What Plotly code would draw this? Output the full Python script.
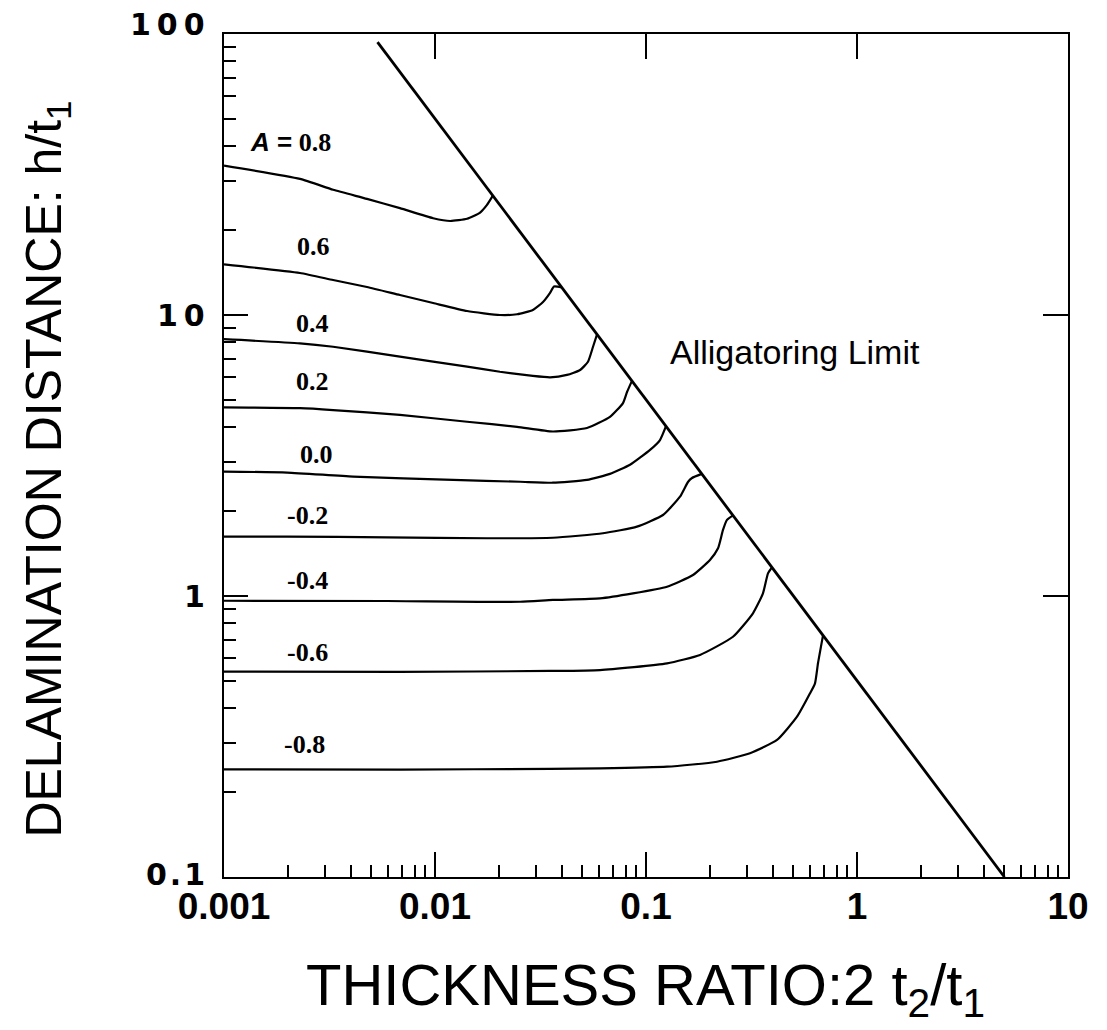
import plotly.graph_objects as go
import math

# ---------------- data ----------------
# Alligatoring limit line
limit_x = [0.00534, 5.0]
limit_y = [93.6, 0.1]

# curves for each A value
x_08 = [0.001, 0.00229, 0.00329, 0.00476, 0.00682, 0.0098, 0.0118, 0.0142, 0.0163, 0.0176, 0.0188]
y_08 = [34.0, 30.5, 27.9, 25.9, 24.0, 22.1, 21.6, 22.0, 23.1, 24.6, 26.6]

x_06 = [0.001, 0.00229, 0.00329, 0.00476, 0.00682, 0.0098, 0.0142, 0.0203, 0.0245, 0.0291, 0.0325, 0.0351, 0.03664, 0.03986]
y_06 = [15.15, 14.11, 13.32, 12.58, 11.78, 11.03, 10.33, 10.0, 10.06, 10.42, 11.12, 11.98, 12.63, 12.54]

x_04 = [0.001, 0.00229, 0.00329, 0.00682, 0.0142, 0.0203, 0.0291, 0.0351, 0.0422, 0.0487, 0.0531, 0.0561, 0.0586]
y_04 = [8.20, 7.93, 7.71, 7.11, 6.55, 6.28, 6.07, 6.00, 6.12, 6.37, 6.82, 7.71, 8.53]

x_02 = [0.001, 0.00229, 0.00329, 0.00682, 0.0142, 0.0245, 0.0362, 0.0525, 0.0675, 0.0778, 0.0813, 0.0858]
y_02 = [4.69, 4.66, 4.59, 4.41, 4.17, 4.00, 3.85, 3.96, 4.34, 4.86, 5.32, 5.83]

x_00 = [0.001, 0.00199, 0.00409, 0.01217, 0.0253, 0.0362, 0.0525, 0.0675, 0.0840, 0.1045, 0.1165, 0.1244]
y_00 = [2.77, 2.75, 2.66, 2.59, 2.55, 2.53, 2.59, 2.72, 2.93, 3.31, 3.59, 4.02]

x_m02 = [0.001, 0.00199, 0.00592, 0.01764, 0.0362, 0.0625, 0.0906, 0.1204, 0.1449, 0.1581, 0.1652, 0.1840]
y_m02 = [1.626, 1.626, 1.618, 1.605, 1.612, 1.672, 1.765, 1.942, 2.256, 2.545, 2.63, 2.72]

x_m04 = [0.001, 0.00592, 0.0253, 0.0362, 0.0605, 0.0868, 0.1258, 0.1670, 0.2010, 0.2195, 0.2317, 0.2420, 0.2584]
y_m04 = [0.962, 0.960, 0.954, 0.968, 0.981, 1.022, 1.079, 1.188, 1.343, 1.478, 1.718, 1.865, 1.935]

x_m06 = [0.001, 0.00683, 0.0351, 0.0605, 0.1258, 0.1803, 0.2584, 0.3213, 0.3584, 0.3786, 0.3956]
y_m06 = [0.538, 0.537, 0.541, 0.545, 0.576, 0.617, 0.716, 0.868, 1.022, 1.204, 1.264]

x_m08 = [0.001, 0.00683, 0.0351, 0.0605, 0.1258, 0.2171, 0.3111, 0.4177, 0.5195, 0.5989, 0.6324, 0.6533, 0.6902]
y_m08 = [0.2416, 0.2412, 0.2426, 0.2436, 0.2469, 0.2572, 0.2756, 0.3073, 0.3719, 0.4505, 0.4890, 0.5761, 0.7244]

curve_names = ["0.8", "0.6", "0.4", "0.2", "0.0", "-0.2", "-0.4", "-0.6", "-0.8"]
curve_xs = [x_08, x_06, x_04, x_02, x_00, x_m02, x_m04, x_m06, x_m08]
curve_ys = [y_08, y_06, y_04, y_02, y_00, y_m02, y_m04, y_m06, y_m08]

# label anchor positions (data coordinates) for the curve labels
label_x = [0.0013, 0.00267, 0.00264, 0.00264, 0.00273, 0.0025, 0.0025, 0.0025, 0.00242]
label_y = [41.3, 17.46, 9.36, 5.78, 3.20, 1.93, 1.14, 0.627, 0.295]

x_tickvals = [0.001, 0.01, 0.1, 1, 10]
x_ticktext = ["0.001", "0.01", "0.1", "1", "10"]
y_tickvals = [0.1, 1, 10, 100]
y_ticktext = ["0\u200a.\u200a1", "1", "1\u20090", "1\u20090\u20090"]
y_label_shift = [3, 0, 0, 10]   # the "100" label sits a little above its tick

# ---------------- figure ----------------
fig = go.Figure()

for nm, xs, ys in zip(curve_names, curve_xs, curve_ys):
    fig.add_trace(go.Scatter(x=xs, y=ys, mode="lines", name=nm,
                             line=dict(color="black", width=2.2, shape="spline", smoothing=0.5),
                             hoverinfo="skip"))

fig.add_trace(go.Scatter(x=limit_x, y=limit_y, mode="lines", name="limit",
                         line=dict(color="black", width=2.8), hoverinfo="skip"))

# invisible trace to activate the top/right tick axes
fig.add_trace(go.Scatter(x=limit_x, y=limit_y, xaxis="x2", yaxis="y2", mode="lines",
                         line=dict(color="rgba(0,0,0,0)", width=0), hoverinfo="skip", showlegend=False))

minor_x = [m * 10.0 ** e for e in range(-3, 1) for m in range(2, 10)]
minor_y = [m * 10.0 ** e for e in range(-1, 2) for m in range(2, 10)]

# the page body has an 8px default margin, so the figure is 8px smaller
fig.update_layout(
    width=1099, height=1022,
    margin=dict(l=216, r=39, t=26, b=153),
    plot_bgcolor="white", paper_bgcolor="white",
    showlegend=False,
    xaxis=dict(type="log", range=[-3, 1], showgrid=False, zeroline=False,
               showline=True, linecolor="black", linewidth=2, mirror=True,
               ticks="inside", ticklen=25, tickwidth=2, tickcolor="black",
               tickvals=x_tickvals, ticktext=x_ticktext,
               tickfont=dict(family="Liberation Sans, Arial, sans-serif", size=37, color="black", weight="bold"),
               ticklabelstandoff=-4,
               minor=dict(tickvals=minor_x, ticks="inside", ticklen=12, tickwidth=1.6,
                          tickcolor="black", showgrid=False)),
    yaxis=dict(type="log", range=[-1, 2], showgrid=False, zeroline=False,
               showline=True, linecolor="black", linewidth=2, mirror=True,
               ticks="inside", ticklen=24, tickwidth=2, tickcolor="black",
               tickvals=y_tickvals, showticklabels=False,
               minor=dict(tickvals=minor_y, ticks="inside", ticklen=12, tickwidth=1.6,
                          tickcolor="black", showgrid=False)),
    xaxis2=dict(type="log", range=[-3, 1], overlaying="x", side="top", anchor="y",
                showgrid=False, zeroline=False, showline=False,
                ticks="inside", ticklen=25, tickwidth=2, tickcolor="black",
                tickvals=[0.01, 0.1, 1], showticklabels=False),
    yaxis2=dict(type="log", range=[-1, 2], overlaying="y", side="right", anchor="x",
                showgrid=False, zeroline=False, showline=False,
                ticks="inside", ticklen=25, tickwidth=2, tickcolor="black",
                tickvals=[1, 10], showticklabels=False),
)

annotations = []

# y tick labels (as text placed at the tick values)
for v, t, sh in zip(y_tickvals, y_ticktext, y_label_shift):
    annotations.append(dict(x=0, xref="paper", y=math.log10(v), yref="y",
                            text=t, showarrow=False, xanchor="right", yanchor="middle",
                            xshift=-17, yshift=sh,
                            font=dict(family="DejaVu Sans, sans-serif", size=30, color="black", weight="bold")))

serif = "Liberation Serif, Times New Roman, serif"
for i, (nm, lx, ly) in enumerate(zip(curve_names, label_x, label_y)):
    if i == 0:
        txt = ('<span style="font-family:Liberation Sans, Arial, sans-serif;font-weight:bold">'
               '<i>A</i> =</span> ' + nm)
        anc = "left"
    else:
        txt = nm
        anc = "center"
    annotations.append(dict(x=math.log10(lx), y=math.log10(ly), xref="x", yref="y",
                            text=txt, showarrow=False, xanchor=anc, yanchor="middle",
                            font=dict(family=serif, size=26, color="black", weight="bold")))

annotations.append(dict(x=math.log10(0.509), y=math.log10(7.38), xref="x", yref="y",
                        text="Alligatoring Limit", showarrow=False,
                        xanchor="center", yanchor="middle",
                        font=dict(family="Liberation Sans, Arial, sans-serif", size=34, color="black")))

annotations.append(dict(x=-0.209, y=0.484, xref="paper", yref="paper",
                        text="DELAMINATION DISTANCE: h/t<sub>1</sub>", textangle=-90,
                        showarrow=False, xanchor="center", yanchor="middle",
                        font=dict(family="Liberation Sans, Arial, sans-serif", size=50, color="black")))

annotations.append(dict(x=0.499, y=-0.133, xref="paper", yref="paper",
                        text="THICKNESS RATIO:2 t<sub>2</sub>/t<sub>1</sub>",
                        showarrow=False, xanchor="center", yanchor="middle",
                        font=dict(family="Liberation Sans, Arial, sans-serif", size=58, color="black")))

fig.update_layout(annotations=annotations)

fig.write_html("out.html")
